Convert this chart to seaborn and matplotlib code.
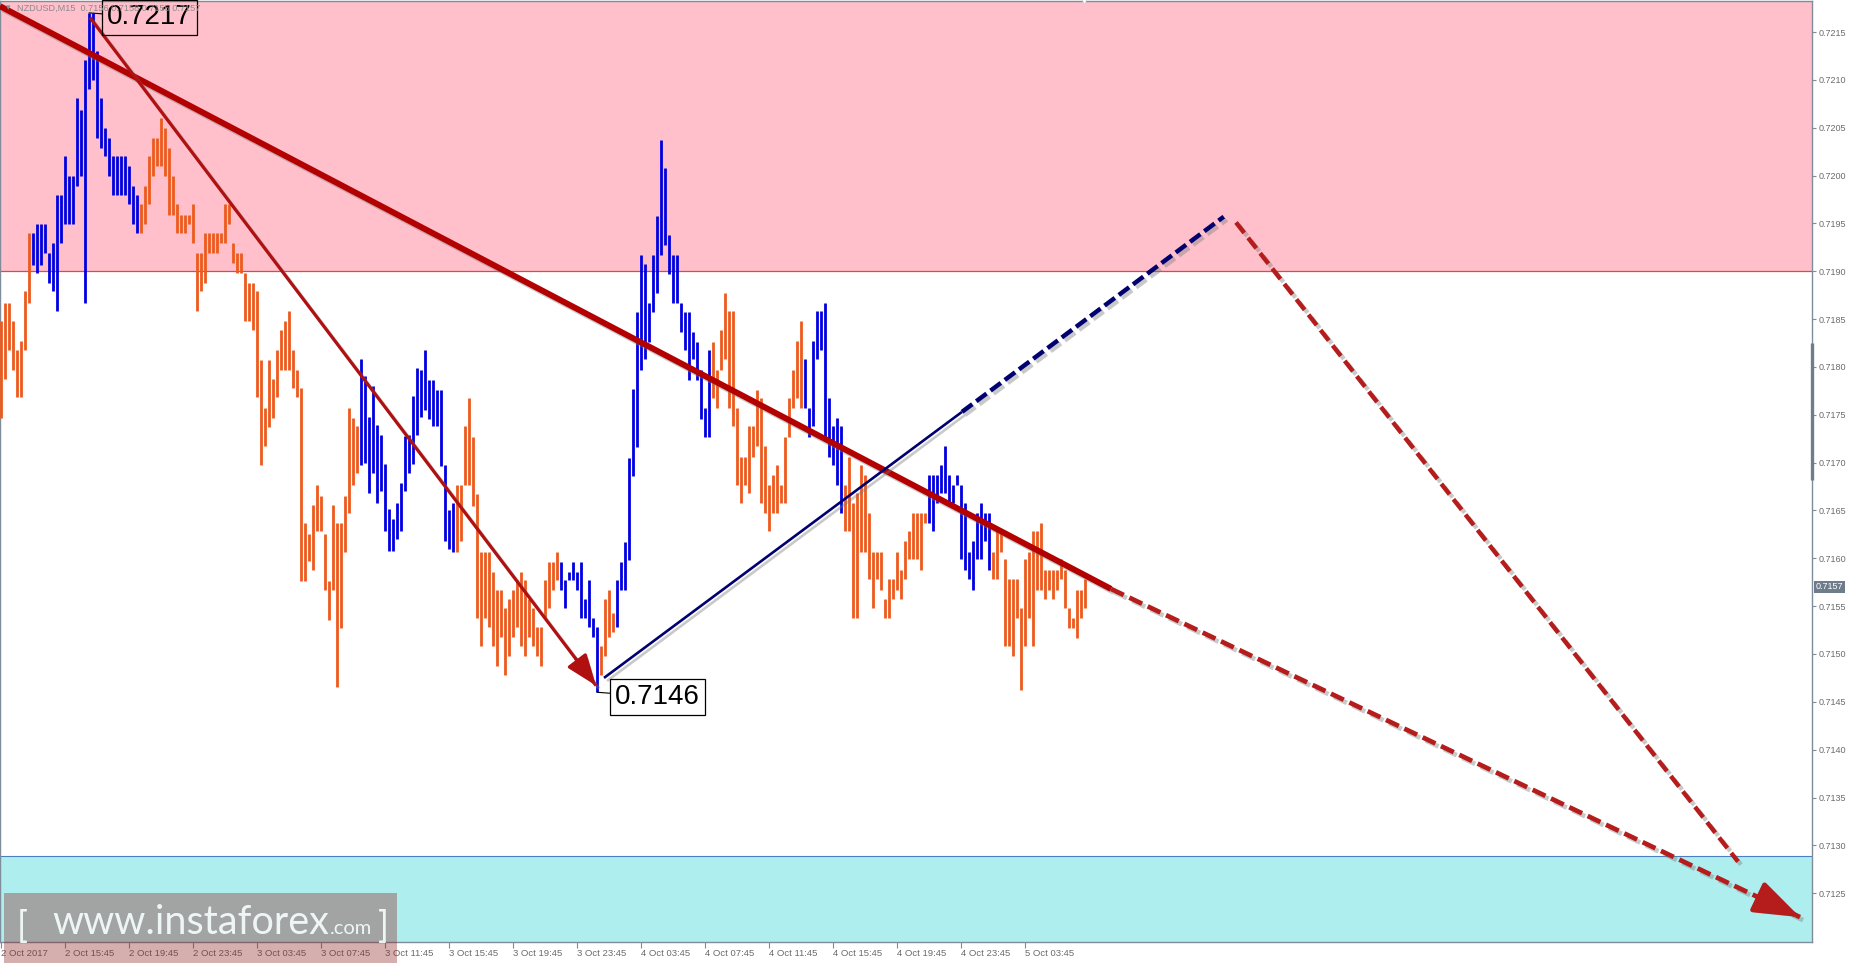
import numpy as np
import pandas as pd
import matplotlib
matplotlib.use("Agg")
import matplotlib.pyplot as plt
import matplotlib.patheffects as pe
from matplotlib.patches import Rectangle, FancyArrowPatch
import seaborn as sns

# ---------------- data ----------------
symbol_title = "NZDUSD,M15  0.7156 0.7158 0.7155 0.7157"

highs = [
    0.71848, 0.71867, 0.71867, 0.71848, 0.71818, 0.71827, 0.71879, 0.71940, 0.71940, 0.71949,
    0.71949, 0.71949, 0.71919, 0.71929, 0.71980, 0.71980, 0.72020, 0.71999, 0.71999, 0.72081,
    0.72069, 0.72121, 0.72170, 0.72170, 0.72130, 0.72081, 0.72050, 0.72039, 0.72020, 0.72020,
    0.72020, 0.72020, 0.72010, 0.71989, 0.71980, 0.71970, 0.71989, 0.72020, 0.72039, 0.72039,
    0.72060, 0.72050, 0.72029, 0.71999, 0.71970, 0.71959, 0.71959, 0.71959, 0.71970, 0.71919,
    0.71919, 0.71940, 0.71940, 0.71940, 0.71940, 0.71940, 0.71970, 0.71970, 0.71929, 0.71919,
    0.71919, 0.71898, 0.71888, 0.71888, 0.71879, 0.71807, 0.71757, 0.71807, 0.71787, 0.71818,
    0.71839, 0.71848, 0.71858, 0.71818, 0.71797, 0.71778, 0.71637, 0.71625, 0.71656, 0.71677,
    0.71665, 0.71625, 0.71576, 0.71656, 0.71637, 0.71637, 0.71665, 0.71757, 0.71747, 0.71738,
    0.71808, 0.71790, 0.71748, 0.71780, 0.71739, 0.71729, 0.71699, 0.71651, 0.71641, 0.71658,
    0.71679, 0.71728, 0.71729, 0.71770, 0.71799, 0.71797, 0.71818, 0.71786, 0.71786, 0.71776,
    0.71776, 0.71698, 0.71650, 0.71658, 0.71677, 0.71677, 0.71738, 0.71767, 0.71727, 0.71667,
    0.71607, 0.71607, 0.71607, 0.71586, 0.71567, 0.71567, 0.71548, 0.71557, 0.71567, 0.71577,
    0.71586, 0.71577, 0.71557, 0.71548, 0.71528, 0.71528, 0.71577, 0.71596, 0.71596, 0.71607,
    0.71596, 0.71577, 0.71586, 0.71596, 0.71586, 0.71596, 0.71557, 0.71577, 0.71538, 0.71528,
    0.71508, 0.71557, 0.71567, 0.71543, 0.71577, 0.71596, 0.71617, 0.71705, 0.71777, 0.71857,
    0.71917, 0.71908, 0.71867, 0.71917, 0.71958, 0.72037, 0.72008, 0.71938, 0.71917, 0.71917,
    0.71867, 0.71857, 0.71857, 0.71837, 0.71826, 0.71797, 0.71757, 0.71818, 0.71826, 0.71797,
    0.71839, 0.71877, 0.71858, 0.71858, 0.71757, 0.71706, 0.71706, 0.71738, 0.71738, 0.71776,
    0.71767, 0.71717, 0.71677, 0.71687, 0.71698, 0.71677, 0.71727, 0.71767, 0.71797, 0.71827,
    0.71848, 0.71808, 0.71757, 0.71827, 0.71858, 0.71858, 0.71867, 0.71767, 0.71738, 0.71747,
    0.71738, 0.71677, 0.71706, 0.71658, 0.71668, 0.71698, 0.71687, 0.71647, 0.71607, 0.71607,
    0.71607, 0.71557, 0.71578, 0.71578, 0.71607, 0.71588, 0.71618, 0.71628, 0.71647, 0.71647,
    0.71647, 0.71647, 0.71687, 0.71687, 0.71687, 0.71698, 0.71717, 0.71687, 0.71677, 0.71687,
    0.71677, 0.71658, 0.71607, 0.71618, 0.71647, 0.71658, 0.71647, 0.71647, 0.71607, 0.71628,
    0.71628, 0.71599, 0.71578, 0.71578, 0.71578, 0.71548, 0.71599, 0.71607, 0.71628, 0.71628,
    0.71637, 0.71588, 0.71588, 0.71588, 0.71588, 0.71599, 0.71588, 0.71548, 0.71538, 0.71567,
    0.71567, 0.71578,
]

lows = [
    0.71747, 0.71787, 0.71818, 0.71797, 0.71769, 0.71769, 0.71818, 0.71867, 0.71907, 0.71898,
    0.71907, 0.71919, 0.71888, 0.71879, 0.71858, 0.71929, 0.71949, 0.71949, 0.71949, 0.71989,
    0.71999, 0.71867, 0.72090, 0.72100, 0.72039, 0.72029, 0.72020, 0.71999, 0.71980, 0.71980,
    0.71980, 0.71980, 0.71970, 0.71949, 0.71940, 0.71940, 0.71949, 0.71970, 0.71999, 0.72010,
    0.72010, 0.71999, 0.71959, 0.71959, 0.71940, 0.71940, 0.71940, 0.71949, 0.71929, 0.71858,
    0.71879, 0.71888, 0.71919, 0.71919, 0.71919, 0.71929, 0.71929, 0.71949, 0.71909, 0.71898,
    0.71898, 0.71848, 0.71848, 0.71839, 0.71769, 0.71698, 0.71717, 0.71737, 0.71747, 0.71769,
    0.71797, 0.71797, 0.71797, 0.71778, 0.71769, 0.71576, 0.71576, 0.71597, 0.71588, 0.71628,
    0.71628, 0.71567, 0.71536, 0.71567, 0.71466, 0.71527, 0.71607, 0.71647, 0.71677, 0.71689,
    0.71698, 0.71700, 0.71668, 0.71689, 0.71658, 0.71670, 0.71629, 0.71608, 0.71608, 0.71620,
    0.71629, 0.71670, 0.71689, 0.71699, 0.71729, 0.71748, 0.71755, 0.71746, 0.71738, 0.71738,
    0.71696, 0.71618, 0.71610, 0.71607, 0.71607, 0.71618, 0.71677, 0.71677, 0.71655, 0.71538,
    0.71508, 0.71538, 0.71528, 0.71508, 0.71487, 0.71518, 0.71478, 0.71498, 0.71518, 0.71528,
    0.71508, 0.71498, 0.71518, 0.71508, 0.71498, 0.71487, 0.71538, 0.71548, 0.71567, 0.71577,
    0.71567, 0.71548, 0.71577, 0.71577, 0.71567, 0.71538, 0.71538, 0.71528, 0.71518, 0.71460,
    0.71478, 0.71498, 0.71518, 0.71523, 0.71528, 0.71567, 0.71567, 0.71598, 0.71686, 0.71716,
    0.71797, 0.71808, 0.71826, 0.71857, 0.71877, 0.71917, 0.71927, 0.71897, 0.71867, 0.71867,
    0.71837, 0.71818, 0.71786, 0.71808, 0.71786, 0.71746, 0.71727, 0.71727, 0.71767, 0.71757,
    0.71797, 0.71808, 0.71757, 0.71738, 0.71677, 0.71658, 0.71677, 0.71668, 0.71706, 0.71717,
    0.71658, 0.71647, 0.71628, 0.71647, 0.71647, 0.71658, 0.71658, 0.71727, 0.71757, 0.71767,
    0.71757, 0.71757, 0.71727, 0.71738, 0.71808, 0.71818, 0.71727, 0.71706, 0.71698, 0.71677,
    0.71647, 0.71628, 0.71628, 0.71538, 0.71538, 0.71607, 0.71607, 0.71578, 0.71548, 0.71578,
    0.71567, 0.71538, 0.71538, 0.71557, 0.71567, 0.71557, 0.71578, 0.71599, 0.71599, 0.71599,
    0.71588, 0.71637, 0.71637, 0.71628, 0.71658, 0.71668, 0.71668, 0.71658, 0.71658, 0.71677,
    0.71599, 0.71588, 0.71578, 0.71567, 0.71599, 0.71599, 0.71618, 0.71588, 0.71578, 0.71578,
    0.71607, 0.71508, 0.71508, 0.71498, 0.71538, 0.71462, 0.71508, 0.71538, 0.71508, 0.71567,
    0.71567, 0.71557, 0.71567, 0.71557, 0.71567, 0.71578, 0.71548, 0.71527, 0.71527, 0.71517,
    0.71538, 0.71548,
]

# first bar of each wave segment; directions alternate starting with "down"
wave_starts = [0, 8, 35, 90, 114, 140, 150, 154, 178, 201, 211, 232, 248]
wave_dirs = ["down", "up", "down", "up", "down", "up", "down",
             "up", "down", "up", "down", "up", "down"]

x_tick_bars = [0, 16, 32, 48, 64, 80, 96, 112, 128, 144, 160, 176, 192, 208, 224, 240, 256]
x_tick_labels = ["2 Oct 2017", "2 Oct 15:45", "2 Oct 19:45", "2 Oct 23:45",
                 "3 Oct 03:45", "3 Oct 07:45", "3 Oct 11:45", "3 Oct 15:45",
                 "3 Oct 19:45", "3 Oct 23:45", "4 Oct 03:45", "4 Oct 07:45",
                 "4 Oct 11:45", "4 Oct 15:45", "4 Oct 19:45", "4 Oct 23:45",
                 "5 Oct 03:45"]
y_ticks = [0.7125, 0.7130, 0.7135, 0.7140, 0.7145, 0.7150, 0.7155, 0.7160, 0.7165,
           0.7170, 0.7175, 0.7180, 0.7185, 0.7190, 0.7195, 0.7200, 0.7205, 0.7210, 0.7215]

resistance_low = 0.7190
support_high = 0.71289
current_price = 0.7157
peak_label = (22, 0.7217, "0.7217")
trough_label = (149, 0.7146, "0.7146")

# trend lines as (bar index, price)
main_trend = [(-0.25, 0.72177), (277.5, 0.71568)]
main_proj = [(277.5, 0.71568), (449.75, 0.71225)]
impulse_line = [(22.25, 0.72165), (148.75, 0.71467)]
corr_line = [(150.75, 0.71475), (240.25, 0.71753)]
corr_proj = [(240.25, 0.71753), (305.7, 0.71957)]
alt_proj = [(308.75, 0.71951), (434.25, 0.71283)]

# ---------------- styling ----------------
W, H = 1854, 963
YMIN, YMAX = 0.711990, 0.721824
XMIN, XMAX = -0.25, 452.75
ORANGE = "#EE5A1E"
BLUE = "#0000E0"
PINK = "#FFC0CB"
CYAN = "#AFEEEE"
GRAYTXT = "#6B6B6B"
AXCOL = "#7F8C9A"

sns.set_theme(style="white")
plt.rcParams["font.family"] = ["Liberation Sans", "DejaVu Sans"]
plt.rcParams["lines.solid_capstyle"] = "butt"

fig = plt.figure(figsize=(W / 100, H / 100), dpi=100, facecolor="white")
ax = fig.add_axes([0 / W, 21 / H, 1812 / W, 941 / H])
ax.set_facecolor("white")

# zones
ax.axhspan(resistance_low, YMAX, facecolor=PINK, lw=0, zorder=0)
ax.axhline(resistance_low, color="#E04848", lw=0.9, zorder=1)
ax.axhspan(YMIN, support_high, facecolor=CYAN, lw=0, zorder=0)
ax.axhline(support_high, color="#4A7FC0", lw=0.8, zorder=1)

# bars
n = len(highs)
wave = []
for k, s in enumerate(wave_starts):
    e = wave_starts[k + 1] if k + 1 < len(wave_starts) else n
    wave += [wave_dirs[k]] * (e - s)
bar_idx = np.arange(n)
df = pd.DataFrame({
    "bar": np.repeat(bar_idx, 2),
    "price": np.column_stack([lows, highs]).ravel(),
    "wave": np.repeat(wave, 2),
})
sns.lineplot(data=df, x="bar", y="price", units="bar", estimator=None, hue="wave",
             palette={"up": BLUE, "down": ORANGE}, linewidth=2.0, legend=False,
             sort=False, ax=ax, zorder=3)

shadow = [pe.SimpleLineShadow(offset=(2.2, -2.2), shadow_color="#7a7a7a", alpha=0.4),
          pe.Normal()]


def seg(points):
    return [p[0] for p in points], [p[1] for p in points]


def head(points, color, lw, hl, hw, frac):
    (x0, y0), (x1, y1) = points
    xs = x1 - (x1 - x0) * frac
    ys = y1 - (y1 - y0) * frac
    arr = FancyArrowPatch((xs, ys), (x1, y1),
                          arrowstyle=f"-|>,head_length={hl},head_width={hw}",
                          mutation_scale=20, color=color, lw=lw,
                          shrinkA=0, shrinkB=0, zorder=6,
                          path_effects=[pe.SimplePatchShadow(offset=(2, -2), shadow_rgbFace="#7a7a7a", alpha=0.4), pe.Normal()])
    ax.add_patch(arr)


# main descending trend line
ax.plot(*seg(main_trend), color="#B30000", lw=4.3, path_effects=shadow, zorder=5)
ax.plot(*seg(main_proj), color="#B51C1C", lw=3.4, dashes=(3.0, 1.3),
        path_effects=shadow, zorder=5)
head(main_proj, "#B51C1C", 3.4, 1.4, 0.5, 0.06)

# impulse line from the peak to the trough
ax.plot(*seg(impulse_line), color="#B01010", lw=2.3, path_effects=shadow, zorder=5)
head(impulse_line, "#B01010", 2.3, 0.95, 0.36, 0.04)

# correction line and its projection
ax.plot(*seg(corr_line), color="#000070", lw=1.9, path_effects=shadow, zorder=5)
ax.plot(*seg(corr_proj), color="#000070", lw=3.2, dashes=(2.9, 1.1),
        path_effects=shadow, zorder=5)

# alternative projection
ax.plot(*seg(alt_proj), color="#B51C1C", lw=3.2, dashes=(3.0, 1.4),
        path_effects=shadow, zorder=5)

# extreme labels
for bx, price, txt in (peak_label, trough_label):
    ax.annotate(txt, xy=(bx, price), xytext=(43.5, -3.3), textcoords="offset points",
                fontsize=20, ha="center", va="center", color="black",
                bbox=dict(boxstyle="square,pad=0.17", fc="none", ec="black", lw=0.9),
                arrowprops=dict(arrowstyle="-", color="black", lw=0.8, shrinkA=0, shrinkB=0),
                zorder=8)

# current price label
ax.annotate(f"{current_price:.4f}", xy=(1.0, current_price), xycoords=("axes fraction", "data"),
            xytext=(2.5, 0), textcoords="offset points", ha="left", va="center",
            fontsize=6.5, color="white",
            bbox=dict(boxstyle="square,pad=0.2", fc="#6F7C8C", ec="none"),
            annotation_clip=False, zorder=10)

# scroll mark on the price scale
ax.plot([1, 1], [0.491, 0.6366], transform=ax.transAxes, color="#6F7C8C", lw=2.4,
        clip_on=False, zorder=10, solid_capstyle="butt")
# chart shift marker
ax.plot([270.75], [YMAX], marker="v", ms=5, color="white", mec="#d0d0d0", mew=0.5,
        clip_on=False, zorder=10)

# axes
ax.set_xlim(XMIN, XMAX)
ax.set_ylim(YMIN, YMAX)
ax.set_xlabel("")
ax.set_ylabel("")
ax.yaxis.tick_right()
ax.set_yticks(y_ticks)
ax.set_yticklabels([f"{v:.4f}" for v in y_ticks])
ax.set_xticks(x_tick_bars)
ax.set_xticklabels(x_tick_labels, ha="left")
ax.tick_params(axis="y", direction="out", length=3, width=0.8, color=AXCOL, pad=2,
               labelsize=6.5, labelcolor=GRAYTXT, right=True, left=False)
ax.tick_params(axis="x", direction="out", length=4, width=0.8, color=AXCOL, pad=1,
               labelsize=6.8, labelcolor=GRAYTXT, bottom=True)
for sp in ax.spines.values():
    sp.set_color(AXCOL)
    sp.set_linewidth(1.0)
ax.grid(False)

# title
fig.text(6 / W, 1 - 8 / H, "\u25be", fontsize=6.5, color="#8A8A8A", va="center", ha="left",
         family=["DejaVu Sans"])
fig.text(17 / W, 1 - 8 / H, symbol_title, fontsize=6.6, color="#8A8A8A", va="center", ha="left")

# watermark
fig.patches.append(Rectangle((4 / W, 0), 393 / W, 70 / H, transform=fig.transFigure,
                             facecolor=(0.55, 0.12, 0.12, 0.36), edgecolor="none", zorder=20))
wm_col = (0.97, 1.0, 1.0, 0.9)
wm_font = dict(family=["Lato", "DejaVu Sans"], color=wm_col,
               va="baseline", ha="left", zorder=21)
base_y = 1 - 934 / H
fig.canvas.draw()
rend = fig.canvas.get_renderer()
fig.text(17 / W, 1 - 938 / H, "[", fontsize=26, weight="normal", **wm_font)
t_main = fig.text(52 / W, base_y, "www.instaforex", fontsize=28.5, weight="normal", **wm_font)
bb = t_main.get_window_extent(renderer=rend)
t_com = fig.text((bb.x1 + 1) / W, base_y, ".com", fontsize=14.5, weight="normal", **wm_font)
bb2 = t_com.get_window_extent(renderer=rend)
fig.text((bb2.x1 + 6) / W, 1 - 938 / H, "]", fontsize=26, weight="normal", **wm_font)

fig.savefig("out.png", dpi=100, facecolor="white")
